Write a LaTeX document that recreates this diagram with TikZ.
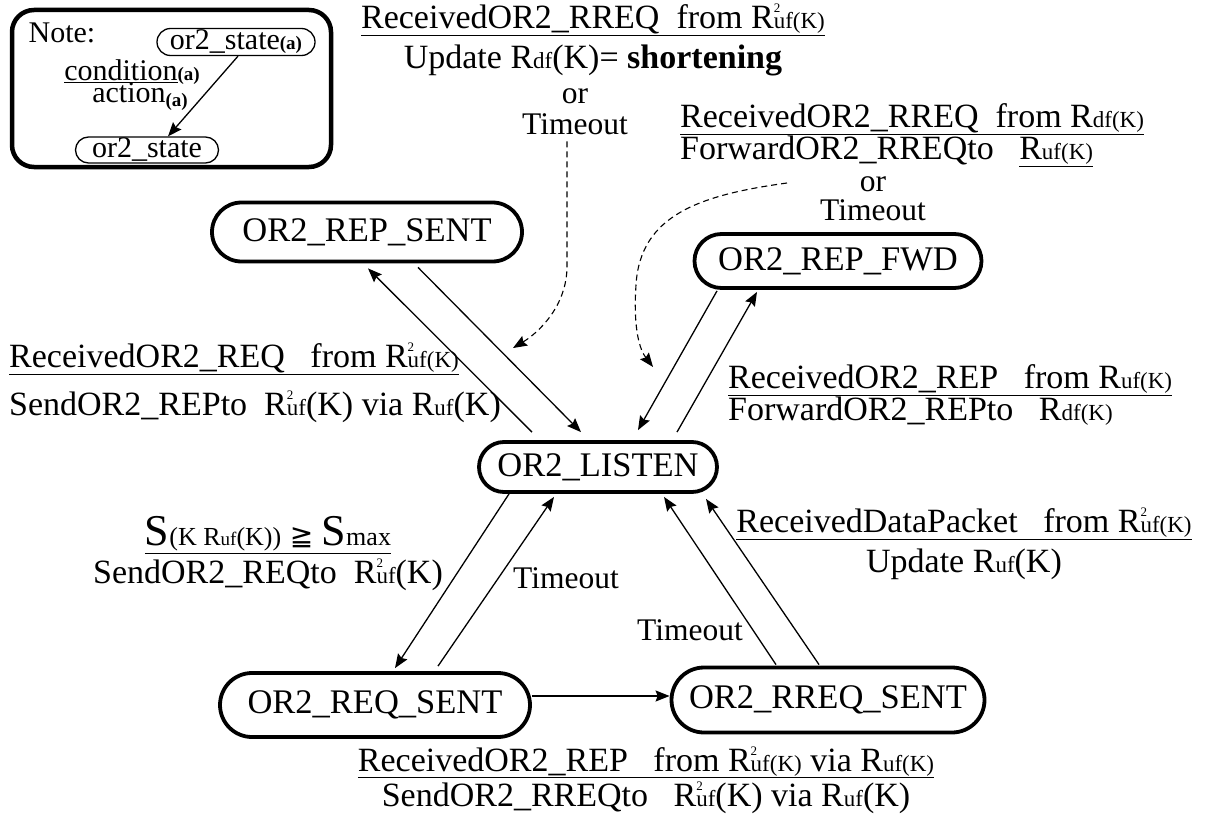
\documentclass[tikz,border=0pt]{standalone}
\usepackage{fontspec}
\setmainfont{Liberation Serif}
\newfontfamily\symfont{DejaVu Sans}
\usetikzlibrary{shapes.misc,arrows.meta}
\tikzset{
  >={Stealth[length=14pt,width=11pt,inset=2pt]},
  or2 state/.style={
    rounded rectangle,
    draw,
    line width=3.8pt,
    inner sep=0pt,
    font=\fontsize{34.5}{40}\selectfont
  },
  small state/.style={
    rounded rectangle,
    draw,
    line width=1.3pt,
    inner sep=0pt,
    font=\fontsize{30}{34}\selectfont
  },
  note box/.style={
    draw,
    line width=4.5pt,
    rounded corners=22pt,
    rectangle
  },
  lbl/.style={inner sep=0pt,font=\fontsize{34}{40}\selectfont},
  small lbl/.style={inner sep=0pt,align=center,font=\fontsize{31.5}{31}\selectfont},
  trans/.style={->,line width=1.3pt},
  hint/.style={->,dash pattern=on 6pt off 4pt,line width=1.1pt}
}
\newcommand{\lo}[1]{{\fontsize{23}{23}\selectfont #1}}
\newcommand{\Rtwo}[1]{R\rlap{\raisebox{16pt}{\fontsize{13}{13}\selectfont 2}}\lo{#1}}
\newcommand{\idx}{{\bfseries\fontsize{19}{19}\selectfont(a)}}

\begin{document}
\begin{tikzpicture}[x=1pt,y=-1pt]
\useasboundingbox (0,0) rectangle (1212,816);
% legend
\node[note box,minimum width=319,minimum height=157] (note) at (171.5,88.5) {};
\node[lbl,font=\fontsize{30}{34}\selectfont] (notehd) at (62,33) {Note:};
\node[small state,minimum width=158,minimum height=27] (st) at (236,42) {or2\_state\idx};
\node[lbl,font=\fontsize{30}{34}\selectfont] (cond) at (132,72) {\underline{condition}\idx};
\node[lbl,font=\fontsize{30}{34}\selectfont] (act) at (140,97) {action\raisebox{-4pt}{\idx}};
\node[small state,minimum width=143,minimum height=26] (stb) at (147,150) {or2\_state};
\draw[trans] ([xshift=2pt]st.south) -- ([xshift=21pt]stb.north);

% states
\node[or2 state,minimum width=310,minimum height=59] (sent) at (367,232) {OR2\_REP\_SENT};
\node[or2 state,minimum width=287,minimum height=54] (fwd) at (838,261) {OR2\_REP\_FWD};
\node[or2 state,minimum width=238,minimum height=50] (listen) at (598,467) {OR2\_LISTEN};
\node[or2 state,minimum width=310,minimum height=64] (reqs) at (375,705) {OR2\_REQ\_SENT};
\node[or2 state,minimum width=313,minimum height=65] (rreqs) at (828,700) {OR2\_RREQ\_SENT};

% labels
\node[lbl,align=center] (lbtop) at (593,40)
  {\underline{ReceivedOR2\_RREQ~~from \Rtwo{uf(K)}}\\
   Update R\lo{df}(K)=~\textbf{shortening}};
\node[small lbl] (toptmo) at (575,112) {or\\Timeout};
\node[lbl,align=left,anchor=west,font=\fontsize{34}{29}\selectfont] (lbtopright) at (680,135)
  {\underline{ReceivedOR2\_RREQ~~from R\lo{df(K)}}\\
   ForwardOR2\_RREQto~~~\underline{R\lo{uf(K)}}};
\node[small lbl,font=\fontsize{31.5}{29}\selectfont] (rtmo) at (873,199) {or\\Timeout};
\node[lbl,align=left,anchor=west,font=\fontsize{34}{48}\selectfont] (lbleft) at (9,383)
  {\underline{ReceivedOR2\_REQ~~~from \Rtwo{uf(K)}}\\
   SendOR2\_REPto~~\Rtwo{uf}(K) via R\lo{uf}(K)};
\node[lbl,align=left,anchor=west,font=\fontsize{34}{30}\selectfont] (lbright) at (728,395)
  {\underline{ReceivedOR2\_REP~~~from R\lo{uf(K)}}\\
   ForwardOR2\_REPto~~~R\lo{df(K)}};
\node[lbl,align=center,font=\fontsize{34}{38}\selectfont] (lbleftlow) at (268,554)
  {\underline{{\fontsize{44}{44}\selectfont S}{\fontsize{26}{26}\selectfont(K R}{\fontsize{19}{19}\selectfont uf}{\fontsize{26}{26}\selectfont(K))}~{\symfont\fontsize{28}{28}\selectfont ≧}~{\fontsize{44}{44}\selectfont S}{\fontsize{26}{26}\selectfont max}}\\
   SendOR2\_REQto~~\Rtwo{uf}(K)};
\node[small lbl] (tmo1) at (566,578) {Timeout};
\node[small lbl] (tmo2) at (690,630) {Timeout};
\node[lbl,align=center] (lbrightlow) at (964,544)
  {\underline{ReceivedDataPacket~~~from \Rtwo{uf(K)}}\\
   Update R\lo{uf}(K)};
\node[lbl,align=center,font=\fontsize{34}{35}\selectfont] (lbbottom) at (646,780)
  {\underline{ReceivedOR2\_REP~~~from \Rtwo{uf(K)} via R\lo{uf(K)}}\\
   SendOR2\_RREQto~~~\Rtwo{uf}(K) via R\lo{uf}(K)};

% transitions
\draw[trans] ([xshift=-66pt,yshift=8pt]listen.north) -- ([xshift=1pt,yshift=-5pt]sent.south);
\draw[trans] ([xshift=51pt,yshift=-4pt]sent.south) -- ([xshift=-17pt,yshift=8pt]listen.north);
\draw[trans] ([xshift=-121pt,yshift=-1pt]fwd.south) -- ([xshift=40pt,yshift=10pt]listen.north);
\draw[trans] ([xshift=79pt,yshift=8pt]listen.north) -- ([xshift=-81pt,yshift=-2pt]fwd.south);
\draw[trans] ([xshift=-89pt]listen.south) -- ([xshift=20pt,yshift=3pt]reqs.north);
\draw[trans] ([xshift=63pt,yshift=5pt]reqs.north) -- ([xshift=-44pt,yshift=-3pt]listen.south);
\draw[trans] ([xshift=-52pt,yshift=1pt]rreqs.north) -- ([xshift=66pt,yshift=-3pt]listen.south);
\draw[trans] ([xshift=-9pt,yshift=1pt]rreqs.north) -- ([xshift=108pt,yshift=-5pt]listen.south);
\draw[trans] ([yshift=4pt]reqs.east |- rreqs.west) -- ([yshift=4pt]rreqs.west);

% timeouts back to listen
\coordinate (dash1end) at (513,348);
\coordinate (dash2end) at (653,367);
\draw[hint] ([xshift=-8pt,yshift=-6pt]toptmo.south) -- ++(0,125)
  .. controls +(0,40) and +(25,-15) .. (dash1end);
\draw[hint] ([xshift=-33pt,yshift=16pt]rtmo.west)
  .. controls (700,195) and (640,215) .. (636,285)
  .. controls (633,330) and (640,350) .. (dash2end);
\end{tikzpicture}
\end{document}
